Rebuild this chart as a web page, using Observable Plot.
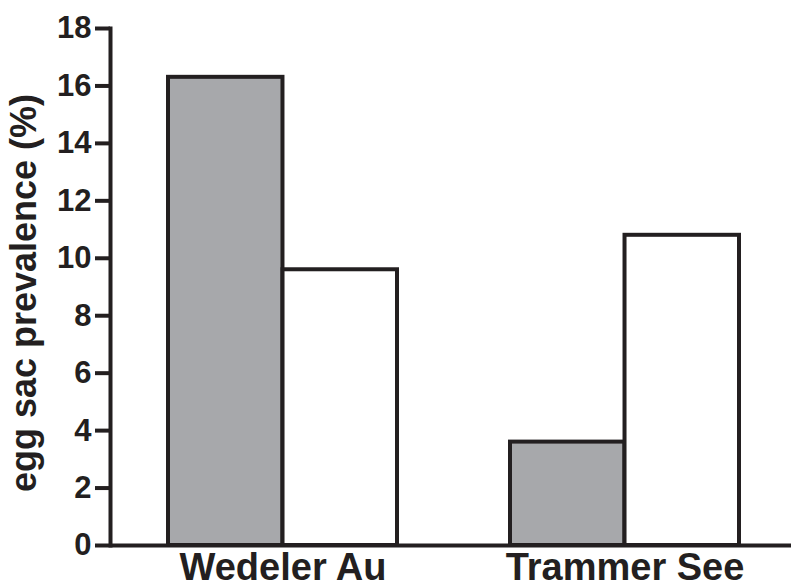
<!DOCTYPE html>
<html>
<head>
<meta charset="utf-8">
<script src="https://cdn.jsdelivr.net/npm/d3@7"></script>
<script src="https://cdn.jsdelivr.net/npm/@observablehq/plot@0.6"></script>
<style>
  html, body { margin: 0; padding: 0; background: #fff; }
</style>
</head>
<body>
<div id="chart"></div>
<script>
// ---- data ----
const sites = ["Wedeler Au", "Trammer See"];
const grayValues = [16.3, 3.6];
const whiteValues = [9.6, 10.8];
const yTicks = [0, 2, 4, 6, 8, 10, 12, 14, 16, 18];
const yLabel = "egg sac prevalence (%)";

// ---- layout ----
const ink = "#231f20";
const W = 791, H = 588, mL = 110, mR = 0;
const padIn = 0.331, padOut = 0.16;
const step = (W - mL - mR) / (sites.length - padIn + 2 * padOut);
const half = step * (1 - padIn) / 2;

const grayData = sites.map((s, i) => ({site: s, value: grayValues[i]}));
const whiteData = sites.map((s, i) => ({site: s, value: whiteValues[i]}));

const chart = Plot.plot({
  width: W,
  height: H,
  marginLeft: mL,
  marginRight: mR,
  marginTop: 28,
  marginBottom: 43,
  style: {fontFamily: "'Liberation Sans', Arial, Helvetica, sans-serif", color: ink, background: "#fff", overflow: "visible"},
  x: {domain: sites, paddingInner: padIn, paddingOuter: padOut, align: 0.53},
  y: {domain: [0, 18]},
  marks: [
    Plot.barY(grayData, {x: "site", y: "value", fill: "#a7a8ab", stroke: ink, strokeWidth: 4, insetLeft: 0, insetRight: half}),
    Plot.barY(whiteData, {x: "site", y: "value", fill: "#fff", stroke: ink, strokeWidth: 4, insetLeft: half, insetRight: 0}),
    Plot.ruleY([0], {stroke: ink, strokeWidth: 4}),
    Plot.frame({anchor: "left", stroke: ink, strokeWidth: 4}),
    Plot.axisY(yTicks, {tickSize: 15, tickPadding: 4, fontSize: 31, fontWeight: "bold", stroke: ink, strokeWidth: 4, fill: ink, label: null}),
    Plot.axisX({tickSize: 0, tickPadding: 8, fontSize: 38, fontWeight: "bold", fill: ink, label: null}),
    Plot.text([yLabel], {frameAnchor: "left", rotate: -90, textAnchor: "middle", dx: -75, dy: 6, fontSize: 36, fontWeight: "bold", lineAnchor: "bottom", fill: ink})
  ]
});
document.getElementById("chart").appendChild(chart);
</script>
</body>
</html>
